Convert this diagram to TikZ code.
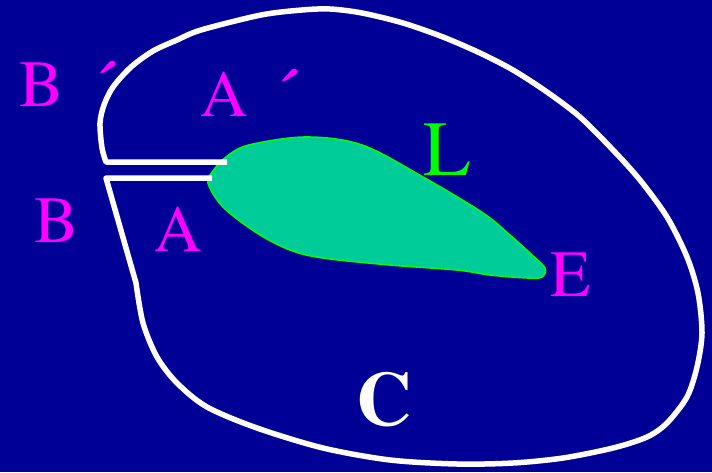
\documentclass[tikz,border=0pt]{standalone}
\usepackage{fontspec}
\newfontfamily\lblfont{texgyretermes}[Extension=.otf, UprightFont=*-regular, BoldFont=*-bold]
\usepackage{xcolor}
\definecolor{bgblue}{RGB}{0,0,150}
\definecolor{foilgreen}{RGB}{0,204,153}
\definecolor{edgegreen}{RGB}{0,255,0}
\definecolor{lblpink}{RGB}{255,0,255}

\begin{document}
\begin{tikzpicture}[
  x=1pt, y=-1pt,
  font=\lblfont\fontsize{66}{70}\selectfont,
  lbl/.style={inner sep=0pt, text=lblpink},
  tick/.style={lbl, anchor=north, font=\lblfont\fontsize{66}{70}\selectfont\bfseries},
  rim/.style={draw=white, line width=5.5pt, line join=round},
  foil/.style={draw=edgegreen, fill=foilgreen, line width=1.6pt}
]
\fill[bgblue] (0,0) rectangle (712,472);
\useasboundingbox (0,0) rectangle (712,472);
% body
\filldraw[foil] plot[smooth cycle, tension=0.55] coordinates {(208,183) (213,171) (226,157) (249,145) (306,137) (362,145) (423,177) (483,213) (511,236) (532,255) (545,268) (542,277) (528,278) (490,275) (457,270) (390,265) (323,258) (290,250) (257,233) (223,207)};
% contour with cut
\draw[rim] (227,162) -- (106,162) -- plot[smooth, tension=0.5] coordinates {(106,162) (102,148) (100,123) (104,105) (113,87) (131,67) (153,51) (177,40) (201,30) (261,15) (302,10) (330,9) (362,13) (403,23) (443,37) (480,53) (513,70) (547,92) (580,117) (613,150) (640,180) (667,217) (687,257) (698,293) (702,333) (697,367) (687,397) (667,423) (647,437) (613,448) (563,458) (513,463) (457,464) (390,460) (323,448) (257,428) (207,407) (177,383) (157,357) (143,323) (136,283)} -- (106,178) -- (212,178);
% labels
\node[lbl] (Bup) at (42,85) {B};
\node[tick] (Bprime) at (105,61) {´};
\node[lbl] (Aup) at (224,94) {A};
\node[tick] (Aprime) at (287,69) {´};
\node[lbl] (Blow) at (57,221) {B};
\node[lbl] (Alow) at (178,229) {A};
\node[lbl] (E) at (571,275) {E};
\node[lbl, text=edgegreen, font=\lblfont\fontsize{78}{82}\selectfont] (L) at (447,150) {L};
\node[lbl, text=white, font=\lblfont\fontsize{77}{80}\selectfont\bfseries] (C) at (384,400) {C};
\end{tikzpicture}
\end{document}
